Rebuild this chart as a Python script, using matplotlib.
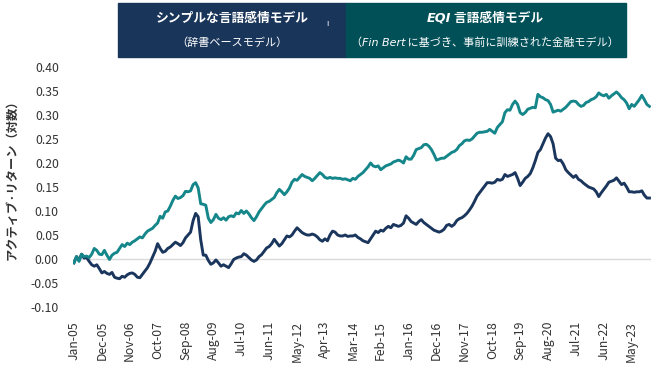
import matplotlib

matplotlib.use("Agg")
import matplotlib.pyplot as plt
import numpy as np
import pandas as pd

plt.rcParams["font.family"] = ["Noto Sans CJK JP", "DejaVu Sans"]

# monthly data, Jan-2005 .. Dec-2023
months = pd.date_range("2005-01-01", "2023-12-01", freq="MS")

eqi_model = [
    -0.008, 0.005, -0.005, 0.010, 0.005, 0.006, 0.003, 0.010, 0.022, 0.018,
    0.010, 0.009, 0.018, 0.008, -0.001, 0.008, 0.012, 0.014, 0.022, 0.030,
    0.026, 0.033, 0.030, 0.035, 0.038, 0.042, 0.046, 0.044, 0.052, 0.058,
    0.061, 0.064, 0.070, 0.075, 0.089, 0.085, 0.098, 0.100, 0.110, 0.122,
    0.131, 0.126, 0.128, 0.132, 0.141, 0.140, 0.142, 0.155, 0.159, 0.148,
    0.115, 0.114, 0.112, 0.085, 0.076, 0.082, 0.093, 0.085, 0.082, 0.086,
    0.081, 0.088, 0.090, 0.088, 0.096, 0.094, 0.101, 0.095, 0.100, 0.094,
    0.086, 0.080, 0.088, 0.098, 0.105, 0.112, 0.118, 0.120, 0.124, 0.128,
    0.138, 0.145, 0.140, 0.134, 0.140, 0.148, 0.160, 0.166, 0.164, 0.170,
    0.176, 0.172, 0.170, 0.168, 0.163, 0.168, 0.174, 0.180, 0.176, 0.170,
    0.168, 0.170, 0.168, 0.169, 0.168, 0.168, 0.166, 0.167, 0.165, 0.163,
    0.168, 0.166, 0.172, 0.176, 0.180, 0.186, 0.192, 0.200, 0.194, 0.192,
    0.194, 0.186, 0.190, 0.194, 0.196, 0.198, 0.202, 0.204, 0.206, 0.204,
    0.200, 0.213, 0.208, 0.208, 0.216, 0.228, 0.230, 0.232, 0.238, 0.239,
    0.235, 0.228, 0.218, 0.206, 0.208, 0.210, 0.210, 0.214, 0.218, 0.222,
    0.224, 0.228, 0.236, 0.240, 0.246, 0.248, 0.247, 0.250, 0.256, 0.262,
    0.264, 0.264, 0.265, 0.266, 0.270, 0.266, 0.262, 0.274, 0.280, 0.286,
    0.305, 0.311, 0.310, 0.322, 0.329, 0.322, 0.305, 0.301, 0.305, 0.312,
    0.314, 0.316, 0.315, 0.343, 0.338, 0.336, 0.332, 0.330, 0.322, 0.306,
    0.308, 0.310, 0.308, 0.312, 0.316, 0.322, 0.328, 0.329, 0.328, 0.322,
    0.318, 0.320, 0.326, 0.328, 0.332, 0.334, 0.338, 0.346, 0.342, 0.340,
    0.343, 0.335, 0.340, 0.344, 0.348, 0.343, 0.336, 0.332, 0.325, 0.313,
    0.322, 0.318, 0.325, 0.332, 0.341, 0.332, 0.322, 0.318,
]

simple_model = [
    -0.008, 0.005, -0.002, 0.010, 0.002, 0.003, -0.005, -0.012, -0.015, -0.012,
    -0.020, -0.029, -0.026, -0.030, -0.032, -0.028, -0.038, -0.040, -0.041, -0.036,
    -0.038, -0.033, -0.030, -0.029, -0.032, -0.038, -0.039, -0.032, -0.025, -0.018,
    -0.008, 0.004, 0.016, 0.032, 0.022, 0.014, 0.016, 0.022, 0.025, 0.030,
    0.035, 0.032, 0.028, 0.034, 0.044, 0.050, 0.056, 0.080, 0.095, 0.088,
    0.040, 0.008, 0.008, -0.003, -0.011, -0.008, -0.002, -0.008, -0.015, -0.012,
    -0.015, -0.018, -0.010, -0.001, 0.002, 0.004, 0.005, 0.011, 0.008, 0.003,
    -0.002, -0.005, -0.002, 0.005, 0.009, 0.016, 0.023, 0.026, 0.032, 0.041,
    0.034, 0.027, 0.032, 0.040, 0.048, 0.046, 0.050, 0.058, 0.065, 0.060,
    0.055, 0.052, 0.050, 0.050, 0.052, 0.050, 0.046, 0.040, 0.037, 0.042,
    0.038, 0.050, 0.058, 0.056, 0.050, 0.048, 0.048, 0.050, 0.047, 0.048,
    0.048, 0.050, 0.045, 0.042, 0.038, 0.036, 0.034, 0.042, 0.050, 0.058,
    0.055, 0.060, 0.058, 0.064, 0.068, 0.065, 0.072, 0.070, 0.068, 0.070,
    0.075, 0.090, 0.085, 0.078, 0.075, 0.072, 0.078, 0.082, 0.076, 0.072,
    0.068, 0.064, 0.060, 0.058, 0.056, 0.058, 0.062, 0.070, 0.072, 0.068,
    0.072, 0.080, 0.084, 0.086, 0.090, 0.095, 0.102, 0.110, 0.120, 0.131,
    0.138, 0.145, 0.152, 0.159, 0.159, 0.158, 0.160, 0.166, 0.164, 0.166,
    0.176, 0.172, 0.174, 0.176, 0.180, 0.168, 0.153, 0.160, 0.168, 0.172,
    0.178, 0.190, 0.205, 0.222, 0.228, 0.240, 0.252, 0.261, 0.255, 0.240,
    0.210, 0.205, 0.206, 0.198, 0.186, 0.180, 0.175, 0.170, 0.174, 0.166,
    0.163, 0.158, 0.154, 0.150, 0.148, 0.146, 0.140, 0.130, 0.138, 0.145,
    0.152, 0.160, 0.162, 0.164, 0.169, 0.162, 0.155, 0.158, 0.150, 0.140,
    0.140, 0.139, 0.140, 0.140, 0.142, 0.133, 0.127, 0.127,
]

yticks = [-0.10, -0.05, 0.00, 0.05, 0.10, 0.15, 0.20, 0.25, 0.30, 0.35, 0.40]
tick_step = 11  # a label every 11 months

NAVY = "#1b365d"
TEAL = "#158689"
BOX_NAVY = "#19355a"
BOX_TEAL = "#015058"
TEXT = "#333333"


def rich_line(fig, parts, cx, y, **kw):
    """Draw a row of text pieces with different styles, centred on cx (pixels)."""
    renderer = fig.canvas.get_renderer()
    texts = []
    for s, style in parts:
        t = fig.text(0, y / fig.bbox.height, s, color="white", va="center", ha="left", **style, **kw)
        texts.append(t)
    widths = [t.get_window_extent(renderer).width for t in texts]
    x = cx - sum(widths) / 2
    for t, w in zip(texts, widths):
        t.set_x(x / fig.bbox.width)
        x += w


def main() -> None:
    fig = plt.figure(figsize=(6.55, 3.68), dpi=100)
    W, H = 655, 368
    ax = fig.add_axes([72.7 / W, 1 - 307 / H, 578 / W, 240 / H])

    x = np.arange(len(months))
    ax.axhline(0, color="#d9d9d9", lw=1.0, zorder=1)
    ax.plot(x, eqi_model, color=TEAL, lw=2.1, zorder=3)
    ax.plot(x, simple_model, color=NAVY, lw=2.1, zorder=2)

    ax.set_xlim(-0.5, len(months) - 0.5)
    ax.set_ylim(-0.10, 0.40)
    ax.set_yticks(yticks)
    ax.set_yticklabels([f"{v:.2f}" for v in yticks])
    ticks = x[::tick_step]
    ax.set_xticks(ticks)
    ax.set_xticklabels([months[i].strftime("%b-%y") for i in ticks], rotation=90)
    ax.tick_params(axis="both", length=0, labelsize=8.8, colors=TEXT)
    ax.tick_params(axis="y", pad=10)
    ax.tick_params(axis="x", pad=10)
    for sp in ax.spines.values():
        sp.set_visible(False)

    fig.text(12 / W, 1 - 177 / H, "アクティブ·リターン（対数）", rotation=90,
             ha="center", va="center", fontsize=8.8, fontweight="bold", color=TEXT)

    # header boxes
    fig.patches.append(plt.Rectangle((118 / W, 1 - 57 / H), 228 / W, 54 / H,
                                     transform=fig.transFigure, color=BOX_NAVY, zorder=0))
    fig.patches.append(plt.Rectangle((346 / W, 1 - 57 / H), 280 / W, 54 / H,
                                     transform=fig.transFigure, color=BOX_TEAL, zorder=0))

    fig.canvas.draw()
    H_px = fig.bbox.height
    bold = {"fontweight": "bold"}
    ital = {"family": "DejaVu Sans", "style": "italic"}
    rich_line(fig, [("シンプルな言語感情モデル", bold)], 232, H_px - 18, fontsize=9.2)
    rich_line(fig, [("（辞書ベースモデル）", {})], 232, H_px - 43, fontsize=8)
    fig.text(327 / W, 1 - 24 / H, "ı", color="white", fontsize=6, ha="center", va="center")
    rich_line(fig, [("EQI", {**ital, **bold}), (" 言語感情モデル", bold)], 485, H_px - 18, fontsize=9.2)
    rich_line(fig, [("（", {}), ("Fin Bert", ital), (" に基づき、事前に訓練された金融モデル）", {})],
              485, H_px - 43, fontsize=8)

    fig.savefig("out.png", dpi=100)
    plt.close(fig)


if __name__ == "__main__":
    main()
